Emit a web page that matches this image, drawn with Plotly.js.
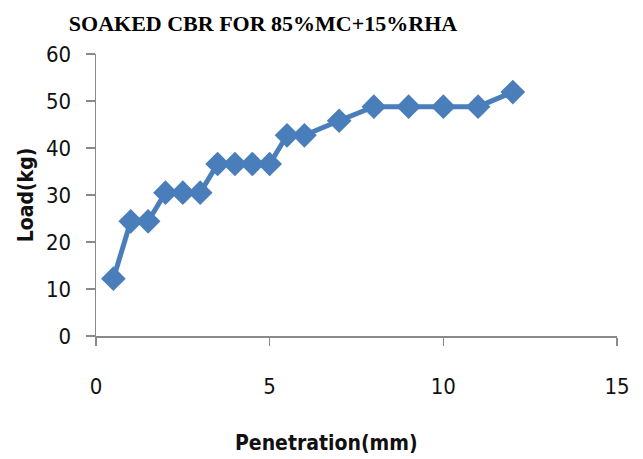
<!DOCTYPE html>
<html>
<head>
<meta charset="utf-8">
<script src="https://cdn.plot.ly/plotly-3.0.1.min.js"></script>
<style>html,body{margin:0;padding:0;background:#fff;}#chart{width:643px;height:459px;}</style>
</head>
<body>
<div id="chart"></div>
<script>
const penetration = [0.5, 1, 1.5, 2, 2.5, 3, 3.5, 4, 4.5, 5, 5.5, 6, 7, 8, 9, 10, 11, 12];
const load = [12.2, 24.4, 24.4, 30.5, 30.5, 30.5, 36.6, 36.6, 36.6, 36.6, 42.7, 42.7, 45.8, 48.8, 48.8, 48.8, 48.8, 51.9];
const xTicks = [0, 5, 10, 15];
const yTicks = [0, 10, 20, 30, 40, 50, 60];
const chartTitle = "SOAKED CBR FOR 85%MC+15%RHA";
const xTitle = "Penetration(mm)";
const yTitle = "Load(kg)";

const tickFont = {family: "DejaVu Sans Condensed, Liberation Sans Narrow, Open Sans, sans-serif", size: 22, color: "#111"};
const axisTitleFont = {family: "DejaVu Sans Condensed, Liberation Sans Narrow, sans-serif", size: 21, color: "#111", weight: "bold"};

const trace = {
  x: penetration, y: load, type: "scatter", mode: "lines+markers",
  line: {color: "#4A7EBB", width: 5},
  marker: {symbol: "diamond", size: 19, color: "#4A7EBB"},
  showlegend: false, hoverinfo: "skip"
};

const layout = {
  width: 643, height: 459,
  margin: {l: 96, r: 26, t: 54, b: 123},
  paper_bgcolor: "#fff", plot_bgcolor: "#fff",
  title: {text: chartTitle, x: 263 / 643, xanchor: "center", y: 1 - 23 / 459, yanchor: "middle",
          font: {family: "Liberation Serif, Times New Roman, serif", size: 22, color: "#000", weight: "bold"}},
  xaxis: {
    range: [0, 15], tickvals: xTicks, ticktext: xTicks.map(String),
    showgrid: false, zeroline: false, showline: true, linecolor: "#8a8a8a", linewidth: 1.5,
    ticks: "outside", ticklen: 8, tickcolor: "#8a8a8a", tickwidth: 1.5,
    tickfont: tickFont, ticklabelstandoff: 22
  },
  yaxis: {
    range: [0, 60], tickvals: yTicks, ticktext: yTicks.map(String),
    showgrid: false, zeroline: false, showline: true, linecolor: "#8a8a8a", linewidth: 1.5,
    ticks: "outside", ticklen: 9, tickcolor: "#8a8a8a", tickwidth: 1.5,
    tickfont: tickFont, ticklabelstandoff: 10,
    title: {text: yTitle, font: axisTitleFont, standoff: 6}
  },
  annotations: [{
    text: xTitle, xref: "paper", yref: "paper",
    x: (326 - 96) / (643 - 96 - 26), y: (336 - 443) / (459 - 54 - 123),
    xanchor: "center", yanchor: "middle", showarrow: false, font: axisTitleFont
  }]
};

Plotly.newPlot("chart", [trace], layout, {displayModeBar: false, staticPlot: true});
</script>
</body>
</html>
